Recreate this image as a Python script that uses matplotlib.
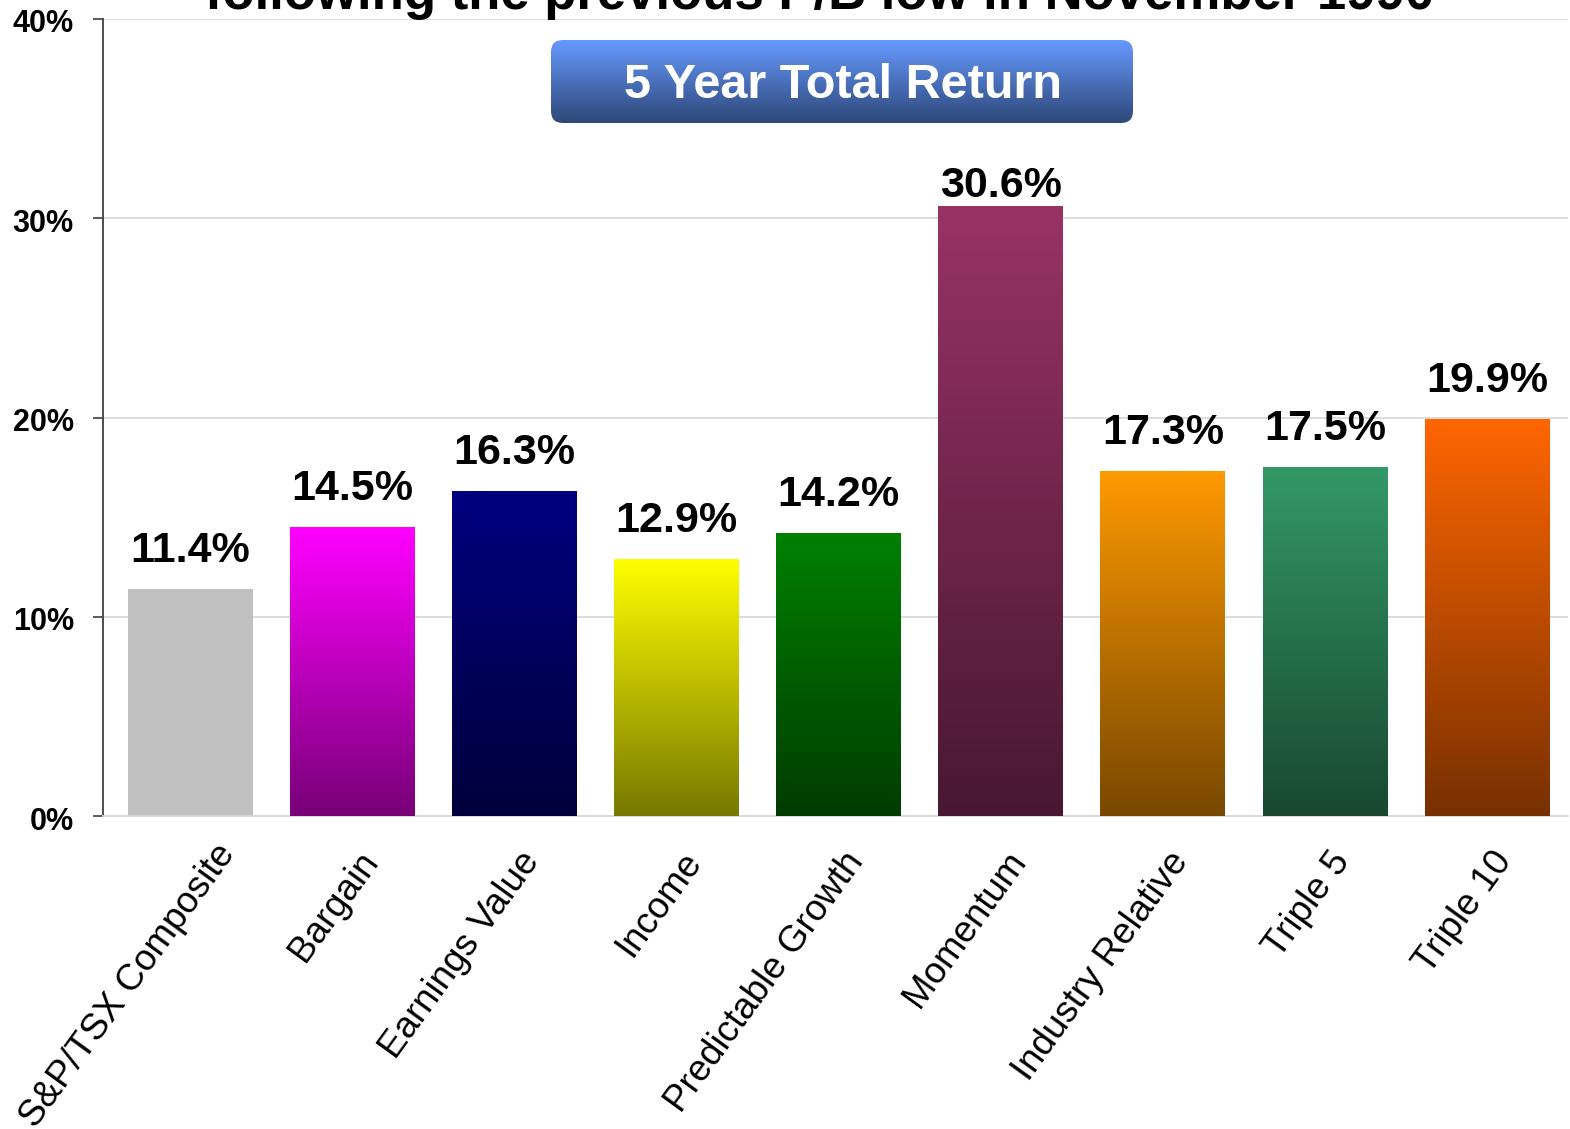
import numpy as np
import matplotlib
matplotlib.use("Agg")
import matplotlib.pyplot as plt
from matplotlib.colors import to_rgb
from matplotlib.patches import FancyBboxPatch
from matplotlib.transforms import ScaledTranslation

# ---------------- data ----------------
categories = ["S&P/TSX Composite", "Bargain", "Earnings Value", "Income",
              "Predictable Growth", "Momentum", "Industry Relative",
              "Triple 5", "Triple 10"]
returns = [11.4, 14.5, 16.3, 12.9, 14.2, 30.6, 17.3, 17.5, 19.9]
yticks = [0, 10, 20, 30, 40]
ytick_labels = ["0%", "10%", "20%", "30%", "40%"]
title_text = "following the previous P/B low in November 1990"
box_text = "5 Year Total Return"

# ---------------- style ----------------
top_colors = ["#C0C0C0", "#FF00FF", "#000080", "#FFFF00", "#008000",
              "#993366", "#FF9900", "#339966", "#FF6600"]
gradient = [False, True, True, True, True, True, True, True, True]
dark_factor = 0.47

plt.rcParams['font.family'] = ['Liberation Sans', 'DejaVu Sans']

W, H = 1570, 1129
fig = plt.figure(figsize=(W / 100, H / 100), dpi=100)
fig.patch.set_facecolor("white")

# axes in pixel layout
left, right, top, bottom = 103, 1568, 19, 816
ax = fig.add_axes([left / W, 1 - bottom / H, (right - left) / W, (bottom - top) / H])

x = np.arange(len(categories))
bar_w = 0.77
bars = ax.bar(x, returns, width=bar_w, color=top_colors, zorder=2, linewidth=0)

xlim = (-0.54, 8.5)
ylim = (0, 40)
for i, (rect, c, g) in enumerate(zip(bars, top_colors, gradient)):
    if not g:
        continue
    tc = np.array(to_rgb(c))
    bc = tc * dark_factor
    t = np.linspace(0, 1, 256)[:, None]
    img = (tc[None, :] * (1 - t) + bc[None, :] * t)[:, None, :]
    x0 = rect.get_x()
    x1 = x0 + rect.get_width()
    h = rect.get_height()
    im = ax.imshow(img, extent=[x0, x1, 0, h], aspect='auto', zorder=3,
                   interpolation='bilinear')
    im.set_clip_path(rect)

ax.set_xlim(*xlim)
ax.set_ylim(*ylim)
ax.set_aspect('auto')

# grid
ax.set_yticks(yticks)
ax.set_yticklabels(ytick_labels, fontsize=22, fontweight='bold')
ax.yaxis.grid(True, color="#D9D9D9", linewidth=1.3, zorder=0)
ax.set_axisbelow(True)
ax.tick_params(axis='y', direction='out', length=7, width=1.2, color="#404040", pad=14)
for lbl in ax.get_yticklabels():
    lbl.set_transform(lbl.get_transform() + ScaledTranslation(0, -0.02, fig.dpi_scale_trans))
for s in ["top", "right"]:
    ax.spines[s].set_visible(False)
ax.spines["left"].set_color("#404040")
ax.spines["left"].set_linewidth(1.3)
ax.spines["bottom"].set_color("#D9D9D9")
ax.spines["bottom"].set_linewidth(1.3)

# x tick labels
ax.set_xticks(x)
ax.set_xticklabels(categories, fontsize=26.5, rotation=54, ha='right', va='top',
                   rotation_mode='anchor')
ax.tick_params(axis='x', length=0, pad=21)
shift = ScaledTranslation(4 / 100, 0, fig.dpi_scale_trans)
for i, lbl in enumerate(ax.get_xticklabels()):
    extra = ScaledTranslation(0.20, 0.08, fig.dpi_scale_trans) if i == 0 else ScaledTranslation(0, 0, fig.dpi_scale_trans)
    lbl.set_transform(lbl.get_transform() + shift + extra)

# value labels
for i, (xi, v) in enumerate(zip(x, returns)):
    off = 6.5 if i == 5 else 19.5
    ax.annotate(f"{v:.1f}%", (xi, v), xytext=(0, off), textcoords='offset points',
                ha='center', va='baseline', fontsize=31, fontweight='bold',
                color='black', zorder=5, annotation_clip=False)

# cut-off title
fig.text(820 / W, 1 - 9 / H, title_text, ha='center', va='baseline',
         fontsize=38, fontweight='bold', color='black')

# header box with gradient
bx0, bx1, by0, by1 = 551, 1133, 40, 123
bax = fig.add_axes([bx0 / W, 1 - by1 / H, (bx1 - bx0) / W, (by1 - by0) / H])
bw, bh = bx1 - bx0, by1 - by0
bax.set_xlim(0, bw)
bax.set_ylim(0, bh)
bax.axis('off')
patch = FancyBboxPatch((0, 0), bw, bh, boxstyle="round,pad=0,rounding_size=12",
                       facecolor='none', edgecolor='none')
bax.add_patch(patch)
ctop = np.array(to_rgb("#6699FF"))
cbot = np.array(to_rgb("#2E4878"))
t = np.linspace(0, 1, 256)[:, None]
gimg = (ctop[None, :] * (1 - t) + cbot[None, :] * t)[:, None, :]
gim = bax.imshow(gimg, extent=[0, bw, 0, bh], aspect='auto', interpolation='bilinear')
gim.set_clip_path(patch)
bax.set_xlim(0, bw)
bax.set_ylim(0, bh)
bax.text(bw / 2 + 1, bh / 2 - 4, box_text, ha='center', va='center', fontsize=35,
         fontweight='bold', color='white')

fig.savefig("out.png", dpi=100)
